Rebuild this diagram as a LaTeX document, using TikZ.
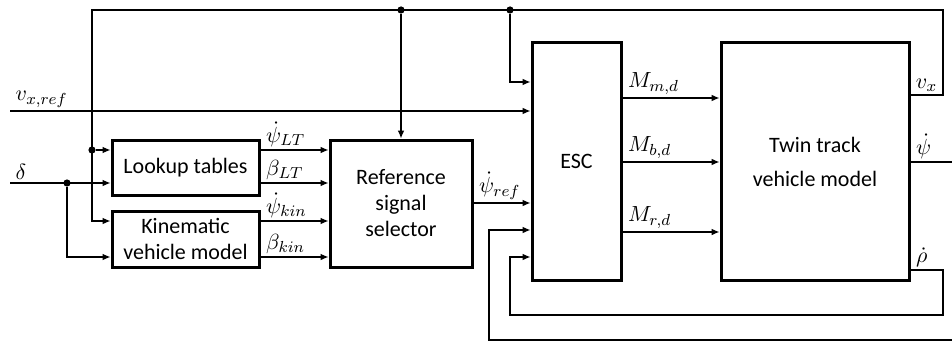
\documentclass[tikz,border=0pt]{standalone}
\usepackage{fontspec}
\setmainfont{Carlito}
\usetikzlibrary{arrows.meta}
\tikzset{
  block/.style={draw, line width=1.5pt, align=center, inner sep=2pt,
    font=\fontsize{11}{13}\selectfont},
  sig/.style={line width=0.65pt, -{Latex[length=4pt,width=3.4pt]}},
  wire/.style={line width=0.65pt},
  dot/.style={circle, fill, inner sep=0pt, minimum size=3.6pt},
  lbl/.style={font=\fontsize{11}{13}\selectfont, inner sep=1pt, xshift=1.5pt, yshift=0.5pt}
}
\begin{document}
\begin{tikzpicture}[x=0.5pt,y=-0.5pt]
  \useasboundingbox (0,0) rectangle (952,342);
  % blocks
  \node[block, minimum width=73.5pt, minimum height=27.5pt] (lut) at (185.5,167.5) {Lookup tables};
  \node[block, minimum width=73.5pt, minimum height=28pt] (kin) at (185.5,239) {Kinematic\\vehicle model};
  \node[block, minimum width=71pt, minimum height=63.5pt] (sel) at (401,203.5) {Reference\\signal\\selector};
  \node[block, minimum width=44.5pt, minimum height=118.5pt] (esc) at (576.5,161.5) {ESC};
  \node[block, minimum width=94pt, minimum height=118.5pt, font=\fontsize{11}{17}\selectfont] (twin) at (815,161.5) {Twin track\\vehicle model};
  % signal rows
  \coordinate (r1) at (0,150);
  \coordinate (r2) at (0,183);
  \coordinate (r3) at (0,221);
  \coordinate (r4) at (0,257);
  \coordinate (yvxfb) at (0,82);
  \coordinate (yref) at (0,203);
  \coordinate (yfb1) at (0,230);
  \coordinate (yfb2) at (0,257);
  \coordinate (ym) at (0,98);
  \coordinate (yb) at (0,162);
  \coordinate (yr) at (0,232);
  \coordinate (yvx) at (0,95);
  \coordinate (ypsi) at (0,162);
  \coordinate (yrho) at (0,270);
  % loose ends and corners
  \coordinate (vin) at (10,111);
  \coordinate (din) at (10,183);
  \coordinate (tl) at (92,10);
  \coordinate (tr) at (943,10);
  \coordinate (rr) at (943,315);
  \coordinate (rl) at (510,315);
  \coordinate (pout) at (952,162);
  \coordinate (bin) at (952,340);
  \coordinate (bl) at (489,340);
  % junctions
  \node[dot] (j1) at (sel.north |- tl) {};
  \node[dot] (j2) at (510,10) {};
  \node[dot] (j3) at (tl |- r1) {};
  \node[dot] (j4) at (67,183) {};
  % feedback of v_x
  \draw[sig] (twin.east |- yvx) -| (tr) -- (tl) |- (kin.west |- r3);
  \draw[sig] (j3) -- (lut.west |- r1);
  \draw[sig] (j1) -- (sel.north);
  \draw[sig] (j2) |- (esc.west |- yvxfb);
  % inputs
  \draw[sig] (vin) node[lbl, above right] {$v_{x,ref}$} -- (esc.west |- vin);
  \draw[sig] (din) node[lbl, above right] {$\delta$} -- (lut.west |- din);
  \draw[sig] (j4) |- (kin.west |- r4);
  % reference signals
  \draw[sig] (lut.east |- r1) node[lbl, above right] {$\dot\psi_{LT}$} -- (sel.west |- r1);
  \draw[sig] (lut.east |- r2) node[lbl, above right] {$\beta_{LT}$} -- (sel.west |- r2);
  \draw[sig] (kin.east |- r3) node[lbl, above right] {$\dot\psi_{kin}$} -- (sel.west |- r3);
  \draw[sig] (kin.east |- r4) node[lbl, above right] {$\beta_{kin}$} -- (sel.west |- r4);
  \draw[sig] (sel.east |- yref) node[lbl, above right] {$\dot\psi_{ref}$} -- (esc.west |- yref);
  % moments
  \draw[sig] (esc.east |- ym) node[lbl, above right] {$M_{m,d}$} -- (twin.west |- ym);
  \draw[sig] (esc.east |- yb) node[lbl, above right] {$M_{b,d}$} -- (twin.west |- yb);
  \draw[sig] (esc.east |- yr) node[lbl, above right] {$M_{r,d}$} -- (twin.west |- yr);
  % outputs
  \node[lbl, above right] (vxl) at (twin.east |- yvx) {$v_x$};
  \draw[wire] (twin.east |- ypsi) node[lbl, above right] {$\dot\psi$} -- (pout);
  \draw[sig] (bin) -- (bl) |- (esc.west |- yfb1);
  \draw[sig] (twin.east |- yrho) node[lbl, above right] {$\dot\rho$} -| (rr) -- (rl) |- (esc.west |- yfb2);
\end{tikzpicture}
\end{document}
